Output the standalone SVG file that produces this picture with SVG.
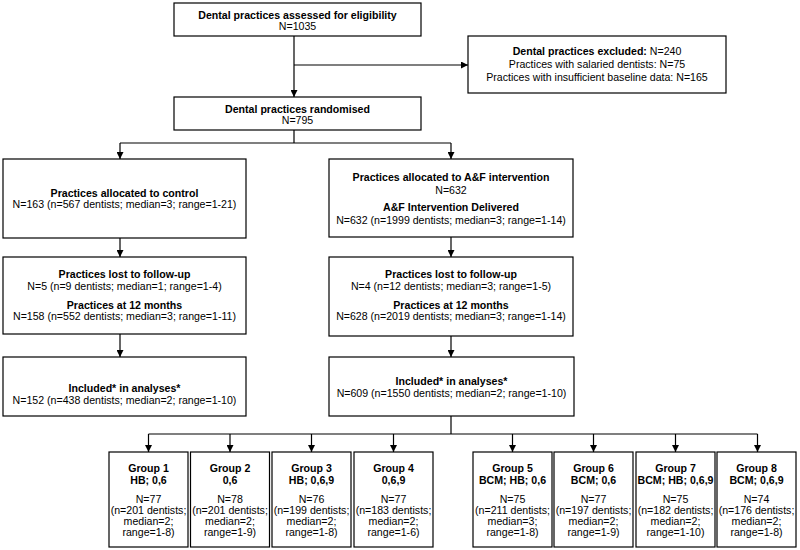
<svg xmlns="http://www.w3.org/2000/svg" width="800" height="550" viewBox="0 0 800 550">
<defs>
<marker id="arr" viewBox="0 0 10 10" refX="10" refY="5" markerWidth="7" markerHeight="7" markerUnits="userSpaceOnUse" orient="auto">
<path d="M0,0 L10,5 L0,10 z" fill="#000"/>
</marker>
<style>
rect{fill:#fff;stroke:#000;stroke-width:1.2}
text{font-family:"Liberation Sans",Arial,sans-serif;font-size:10.6px;fill:#000;text-anchor:middle}
.b{font-weight:bold}
.c{fill:none;stroke:#000;stroke-width:1.2}
.a{marker-end:url(#arr)}
</style>
</defs>
<rect x="0" y="0" width="800" height="550" style="fill:#fff;stroke:none"/>
<g id="connectors">
<path class="c a" d="M294,36 V97"/>
<path class="c a" d="M294,65 H468"/>
<path class="c" d="M294,130 V143 M120,143 H451"/>
<path class="c a" d="M120,143 V159"/>
<path class="c a" d="M451,143 V159"/>
<path class="c a" d="M120,238 V257"/>
<path class="c a" d="M451,237 V257"/>
<path class="c a" d="M120,334 V357"/>
<path class="c a" d="M451,336 V357"/>
<path class="c" d="M451,416 V434 M148.5,434 H757.5"/>
<path class="c a" d="M148.5,434 V452"/>
<path class="c a" d="M230,434 V452"/>
<path class="c a" d="M311.5,434 V452"/>
<path class="c a" d="M393.5,434 V452"/>
<path class="c a" d="M512.5,434 V452"/>
<path class="c a" d="M593.5,434 V452"/>
<path class="c a" d="M675.5,434 V452"/>
<path class="c a" d="M757.5,434 V452"/>
</g>
<g id="assessed">
<rect x="174" y="3" width="247" height="33"/>
<text x="297.5" y="18.5" class="b">Dental practices assessed for eligibility</text>
<text x="297.5" y="30">N=1035</text>
</g>
<g id="excluded">
<rect x="468" y="36" width="258" height="57"/>
<text x="597" y="54.5"><tspan class="b">Dental practices excluded:</tspan> N=240</text>
<text x="597" y="67.5">Practices with salaried dentists: N=75</text>
<text x="597" y="81">Practices with insufficient baseline data: N=165</text>
</g>
<g id="randomised">
<rect x="174" y="97" width="247" height="33"/>
<text x="297.5" y="112.5" class="b">Dental practices randomised</text>
<text x="297.5" y="124">N=795</text>
</g>
<g id="control">
<rect x="3" y="159" width="243" height="79"/>
<text x="124.5" y="196.5" class="b">Practices allocated to control</text>
<text x="124.5" y="207.5">N=163 (n=567 dentists; median=3; range=1-21)</text>
</g>
<g id="intervention">
<rect x="329" y="159" width="244" height="78"/>
<text x="451" y="181" class="b">Practices allocated to A&amp;F intervention</text>
<text x="451" y="193.5">N=632</text>
<text x="451" y="210.5" class="b">A&amp;F Intervention Delivered</text>
<text x="451" y="223.5">N=632 (n=1999 dentists; median=3; range=1-14)</text>
</g>
<g id="control-followup">
<rect x="3" y="257" width="243" height="77"/>
<text x="124.5" y="277.5" class="b">Practices lost to follow-up</text>
<text x="124.5" y="289.5">N=5 (n=9 dentists; median=1; range=1-4)</text>
<text x="124.5" y="308.5" class="b">Practices at 12 months</text>
<text x="124.5" y="319.5">N=158 (n=552 dentists; median=3; range=1-11)</text>
</g>
<g id="intervention-followup">
<rect x="329" y="257" width="244" height="79"/>
<text x="451" y="277.5" class="b">Practices lost to follow-up</text>
<text x="451" y="289.5">N=4 (n=12 dentists; median=3; range=1-5)</text>
<text x="451" y="308.5" class="b">Practices at 12 months</text>
<text x="451" y="319.5">N=628 (n=2019 dentists; median=3; range=1-14)</text>
</g>
<g id="control-analysed">
<rect x="3" y="357" width="243" height="59"/>
<text x="124.5" y="391.5" class="b">Included* in analyses*</text>
<text x="124.5" y="403.5">N=152 (n=438 dentists; median=2; range=1-10)</text>
</g>
<g id="intervention-analysed">
<rect x="329" y="357" width="245" height="59"/>
<text x="451.5" y="384.5" class="b">Included* in analyses*</text>
<text x="451.5" y="396.5">N=609 (n=1550 dentists; median=2; range=1-10)</text>
</g>
<g id="group1">
<rect x="109" y="452" width="79" height="95"/>
<text x="148.5" y="471.5" class="b">Group 1</text>
<text x="148.5" y="483.5" class="b">HB; 0,6</text>
<text x="148.5" y="502.5">N=77</text>
<text x="148.5" y="513.5">(n=201 dentists;</text>
<text x="148.5" y="524.5">median=2;</text>
<text x="148.5" y="535.5">range=1-8)</text>
</g>
<g id="group2">
<rect x="190.5" y="452" width="79" height="95"/>
<text x="230" y="471.5" class="b">Group 2</text>
<text x="230" y="483.5" class="b">0,6</text>
<text x="230" y="502.5">N=78</text>
<text x="230" y="513.5">(n=201 dentists;</text>
<text x="230" y="524.5">median=2;</text>
<text x="230" y="535.5">range=1-9)</text>
</g>
<g id="group3">
<rect x="272" y="452" width="79" height="95"/>
<text x="311.5" y="471.5" class="b">Group 3</text>
<text x="311.5" y="483.5" class="b">HB; 0,6,9</text>
<text x="311.5" y="502.5">N=76</text>
<text x="311.5" y="513.5">(n=199 dentists;</text>
<text x="311.5" y="524.5">median=2;</text>
<text x="311.5" y="535.5">range=1-8)</text>
</g>
<g id="group4">
<rect x="354" y="452" width="79" height="95"/>
<text x="393.5" y="471.5" class="b">Group 4</text>
<text x="393.5" y="483.5" class="b">0,6,9</text>
<text x="393.5" y="502.5">N=77</text>
<text x="393.5" y="513.5">(n=183 dentists;</text>
<text x="393.5" y="524.5">median=2;</text>
<text x="393.5" y="535.5">range=1-6)</text>
</g>
<g id="group5">
<rect x="473" y="452" width="79" height="95"/>
<text x="512.5" y="471.5" class="b">Group 5</text>
<text x="512.5" y="483.5" class="b">BCM; HB; 0,6</text>
<text x="512.5" y="502.5">N=75</text>
<text x="512.5" y="513.5">(n=211 dentists;</text>
<text x="512.5" y="524.5">median=3;</text>
<text x="512.5" y="535.5">range=1-8)</text>
</g>
<g id="group6">
<rect x="554" y="452" width="79" height="95"/>
<text x="593.5" y="471.5" class="b">Group 6</text>
<text x="593.5" y="483.5" class="b">BCM; 0,6</text>
<text x="593.5" y="502.5">N=77</text>
<text x="593.5" y="513.5">(n=197 dentists;</text>
<text x="593.5" y="524.5">median=2;</text>
<text x="593.5" y="535.5">range=1-9)</text>
</g>
<g id="group7">
<rect x="636" y="452" width="79" height="95"/>
<text x="675.5" y="471.5" class="b">Group 7</text>
<text x="675.5" y="483.5" class="b">BCM; HB; 0,6,9</text>
<text x="675.5" y="502.5">N=75</text>
<text x="675.5" y="513.5">(n=182 dentists;</text>
<text x="675.5" y="524.5">median=2;</text>
<text x="675.5" y="535.5">range=1-10)</text>
</g>
<g id="group8">
<rect x="717" y="452" width="79" height="95"/>
<text x="756.5" y="471.5" class="b">Group 8</text>
<text x="756.5" y="483.5" class="b">BCM; 0,6,9</text>
<text x="756.5" y="502.5">N=74</text>
<text x="756.5" y="513.5">(n=176 dentists;</text>
<text x="756.5" y="524.5">median=2;</text>
<text x="756.5" y="535.5">range=1-8)</text>
</g>
</svg>
